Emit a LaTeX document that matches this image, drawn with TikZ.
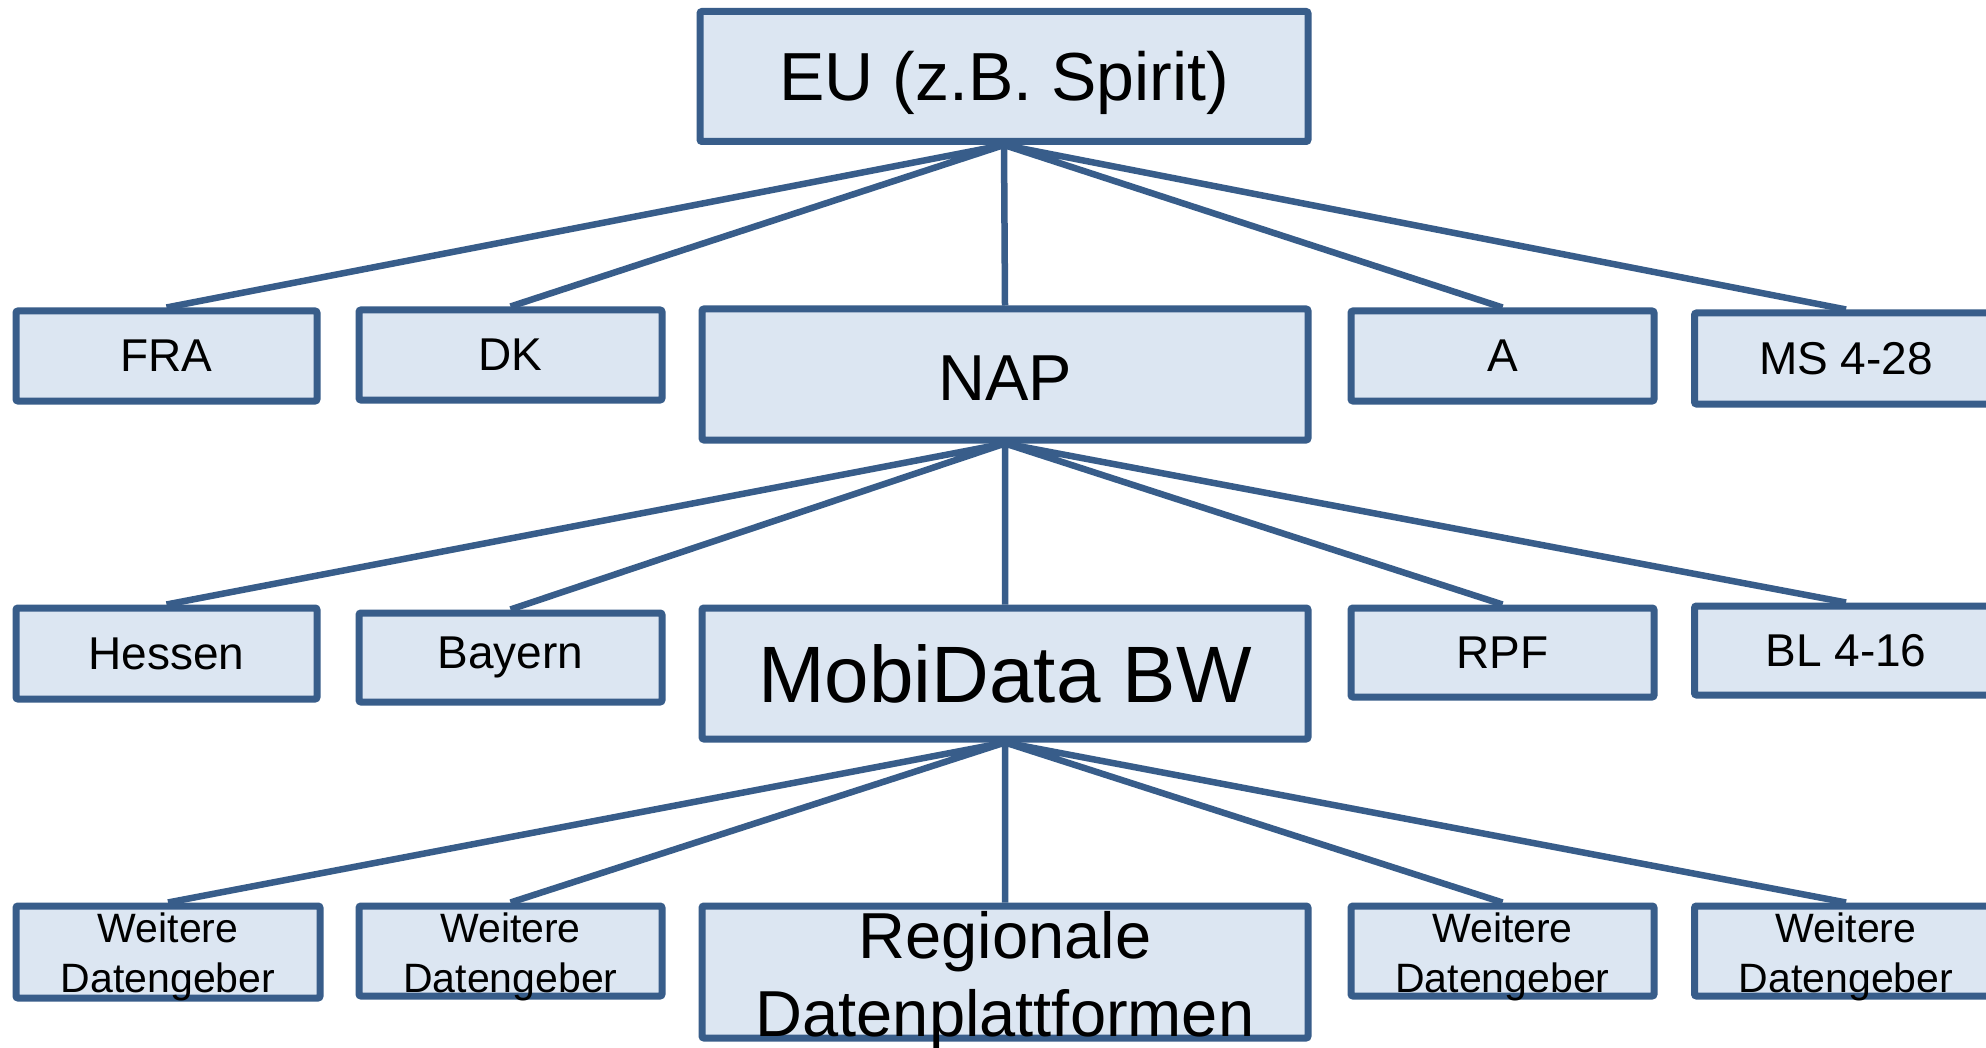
\documentclass[tikz,border=0pt]{standalone}
\usepackage{fontspec}
\setmainfont{Liberation Sans}
\definecolor{bd}{RGB}{56,93,138}
\definecolor{fl}{RGB}{220,230,242}
\begin{document}
\begin{tikzpicture}[x=1pt,y=-1pt,
  box/.style={draw=bd,fill=fl,line width=7pt,rounded corners=2pt,inner sep=0pt},
  big/.style={box,minimum width=606pt,minimum height=131pt},
  small/.style={box,minimum width=303pt,minimum height=90pt,font=\fontsize{46}{55}\selectfont},
  txt/.style={inner sep=0pt,align=center},
  conn/.style={draw=bd,line width=6.5pt}]
\useasboundingbox (0,0) rectangle (1986,1048);
\fill[white] (0,0) rectangle (1986,1048);
\clip (0,0) rectangle (1986,1048);
% level 1
\node[big,minimum width=608pt,minimum height=130pt] (eu) at (1004,76.5) {};
\node[txt,font=\fontsize{68}{80}\selectfont] (eut) at (1004,83) {EU (z.B. Spirit)};
% level 2 boxes
\node[small,minimum width=301pt] (fra) at (166.5,356) {FRA};
\node[small] (dk) at (510.5,355) {DK};
\node[big] (nap) at (1005,374.5) {};
\node[txt,font=\fontsize{65}{78}\selectfont] (napt) at (1005,378) {NAP};
\node[small] (a) at (1502.5,356) {A};
\node[small,minimum height=91pt] (ms) at (1846,358.5) {MS 4-28};
% level 3 boxes
\node[small,minimum width=301pt,minimum height=91pt] (hes) at (166.5,653.5) {Hessen};
\node[small,minimum height=89pt] (bay) at (510.5,657.5) {Bayern};
\node[big,font=\fontsize{80}{96}\selectfont] (mob) at (1005,673.5) {MobiData BW};
\node[small,minimum height=89pt] (rpf) at (1502.5,652.5) {RPF};
\node[small,minimum height=89pt] (bl) at (1846,650.5) {BL 4-16};
% level 4 boxes
\node[small,minimum width=304pt,minimum height=92pt] (wd1) at (168,952) {};
\node[small] (wd2) at (510.5,951) {};
\node[big,minimum height=132pt] (reg) at (1005,972) {};
\node[small] (wd3) at (1502.5,951) {};
\node[small] (wd4) at (1846,951) {};
% texts of level 4
\node[txt,font=\fontsize{41}{50}\selectfont] (wd1t) at (168,957) {Weitere\\Datengeber};
\node[txt,font=\fontsize{41}{50}\selectfont] (wd2t) at (510.5,957) {Weitere\\Datengeber};
\node[txt,font=\fontsize{65}{78}\selectfont] (regt) at (1005,981) {Regionale\\Datenplattformen};
\node[txt,font=\fontsize{41}{50}\selectfont] (wd3t) at (1502.5,957) {Weitere\\Datengeber};
\node[txt,font=\fontsize{41}{50}\selectfont] (wd4t) at (1846,957) {Weitere\\Datengeber};
% connectors
\path[conn] (eu.south) -- (fra.north) (eu.south) -- (dk.north) (eu.south) -- (nap.north)
  (eu.south) -- (a.north) (eu.south) -- (ms.north);
\path[conn] (nap.south) -- (hes.north) (nap.south) -- (bay.north) (nap.south) -- (mob.north)
  (nap.south) -- (rpf.north) (nap.south) -- (bl.north);
\path[conn] (mob.south) -- (wd1.north) (mob.south) -- (wd2.north) (mob.south) -- (reg.north)
  (mob.south) -- (wd3.north) (mob.south) -- (wd4.north);
\end{tikzpicture}
\end{document}
